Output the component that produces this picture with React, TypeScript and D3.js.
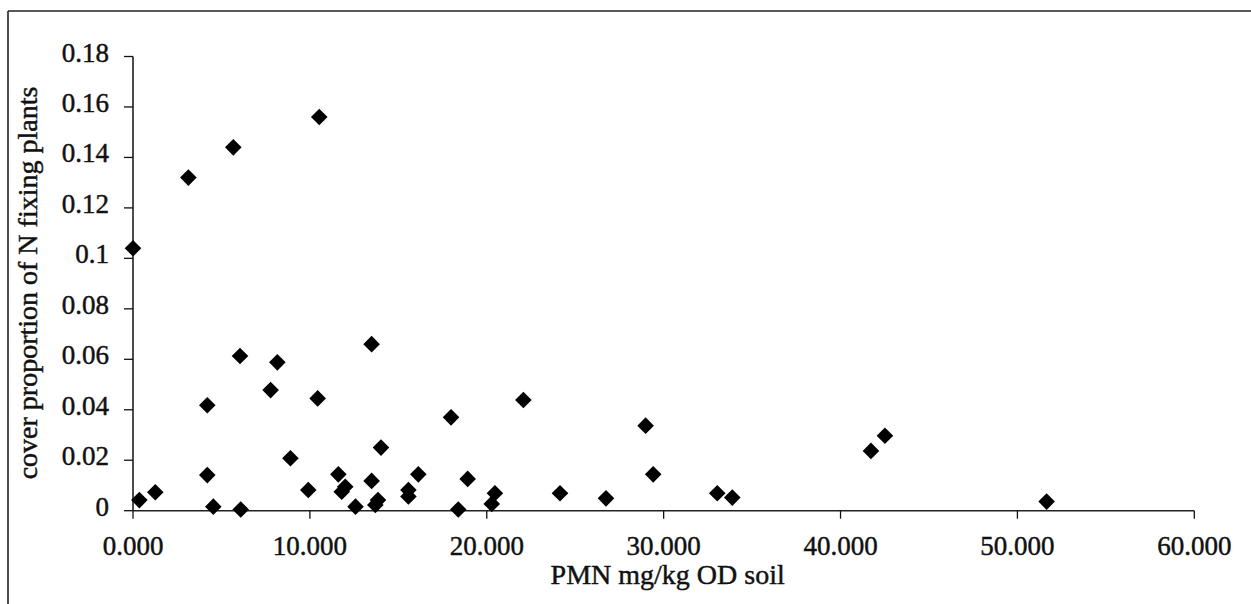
import React from "react";
import * as d3 from "d3";

const pmn = [0.0, 3.13, 5.67, 10.53, 0.36, 1.26, 4.2, 4.2, 4.54, 6.09, 6.05, 7.78, 8.16, 8.9, 9.91, 10.44, 11.61, 11.8, 12.0, 12.58, 13.49, 13.49, 13.7, 13.85, 14.02, 15.57, 15.57, 16.13, 17.98, 22.07, 18.92, 18.39, 20.46, 20.28, 24.14, 26.74, 28.98, 29.41, 33.03, 33.88, 41.72, 42.51, 51.65];
const cover = [0.104, 0.132, 0.144, 0.156, 0.0042, 0.0073, 0.0418, 0.0141, 0.0016, 0.0005, 0.0613, 0.0478, 0.0588, 0.0208, 0.0082, 0.0445, 0.0144, 0.0075, 0.0095, 0.0016, 0.066, 0.0118, 0.0023, 0.0042, 0.025, 0.0082, 0.0056, 0.0144, 0.037, 0.0439, 0.0126, 0.0005, 0.0069, 0.0027, 0.0069, 0.0049, 0.0337, 0.0144, 0.0069, 0.0052, 0.0237, 0.0297, 0.0036];

const xTicks = [0, 10, 20, 30, 40, 50, 60];
const yTicks = [0, 0.02, 0.04, 0.06, 0.08, 0.1, 0.12, 0.14, 0.16, 0.18];
const xTitle = "PMN mg/kg OD soil";
const yTitle = "cover proportion of N fixing plants";

const W = 1251;
const H = 604;
const left = 133;
const right = 1194.3;
const top = 56.5;
const bottom = 510.7;
const font = "'Liberation Serif', 'Times New Roman', serif";

export default function App() {
  const x = d3.scaleLinear().domain([0, 60]).range([left, right]);
  const y = d3.scaleLinear().domain([0, 0.18]).range([bottom, top]);
  const fx = d3.format(".3f");
  const fy = (v: number) => String(+v.toFixed(2));
  const r = 8.3;
  const diamond = `M0,${-r}L${r},0L0,${r}L${-r},0Z`;
  const ts = { stroke: "#111", strokeWidth: 0.45 };
  return (
    <svg width={W} height={H} style={{ position: "absolute", left: 0, top: 0, background: "#fff" }} fontFamily={font}>
      <rect x={0} y={0} width={W} height={H} fill="#fff" />
      <line x1={8} y1={11} x2={W} y2={11} stroke="#222" strokeWidth={1.6} />
      <line x1={8} y1={11} x2={8} y2={H} stroke="#222" strokeWidth={1.6} />
      <line x1={left} y1={top} x2={left} y2={bottom} stroke="#111" strokeWidth={1.5} />
      <line x1={left} y1={bottom} x2={right} y2={bottom} stroke="#222" strokeWidth={1.5} />
      {yTicks.map((t) => (
        <g key={"y" + t}>
          <line x1={left - 9} x2={left} y1={y(t)} y2={y(t)} stroke="#111" strokeWidth={1.3} />
          <text x={109} y={y(t) + 5} textAnchor="end" fontSize={27} fill="#111" {...ts}>
            {fy(t)}
          </text>
        </g>
      ))}
      {xTicks.map((t) => (
        <g key={"x" + t}>
          <line x1={x(t)} x2={x(t)} y1={bottom} y2={bottom + 8} stroke="#111" strokeWidth={1.3} />
          <text x={x(t)} y={555} textAnchor="middle" fontSize={27} fill="#111" {...ts}>
            {fx(t)}
          </text>
        </g>
      ))}
      <text x={(left + right) / 2 + 4} y={584} textAnchor="middle" fontSize={28} fill="#111" {...ts}>
        {xTitle}
      </text>
      <text transform={`translate(37,283) rotate(-90)`} textAnchor="middle" fontSize={28} fill="#111" {...ts}>
        {yTitle}
      </text>
      {pmn.map((v, i) => (
        <path key={i} d={diamond} transform={`translate(${x(v)},${y(cover[i])})`} fill="#000" />
      ))}
    </svg>
  );
}
